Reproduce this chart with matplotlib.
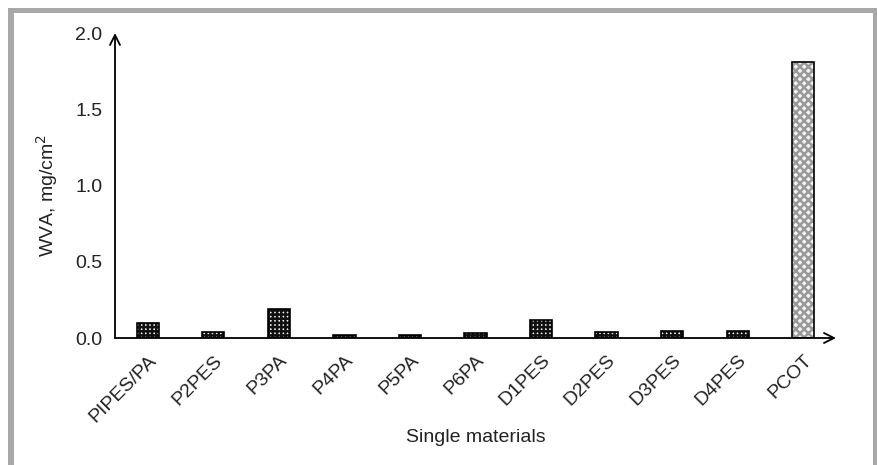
import matplotlib
matplotlib.use("Agg")
import matplotlib.pyplot as plt
from matplotlib.patches import Rectangle

plt.rcParams['font.family'] = ['Liberation Sans', 'DejaVu Sans']
plt.rcParams['hatch.linewidth'] = 1.8

# Water vapour absorption of single fabrics
materials = ["PIPES/PA", "P2PES", "P3PA", "P4PA", "P5PA", "P6PA",
             "D1PES", "D2PES", "D3PES", "D4PES", "PCOT"]
wva = [0.10, 0.04, 0.19, 0.02, 0.02, 0.03, 0.115, 0.04, 0.048, 0.048, 1.81]
y_ticks = [0.0, 0.5, 1.0, 1.5, 2.0]

W, H = 877, 465
fig = plt.figure(figsize=(W / 100, H / 100), dpi=100, facecolor="white")

# gray frame around the figure
frame_col = "#a8a8aa"
for (x0, y0, w, h) in [(8, 8, 6, H - 8), (8, 8, W - 8, 5), (873, 8, 4, H - 8)]:
    fig.patches.append(Rectangle((x0 / W, 1 - (y0 + h) / H), w / W, h / H,
                                 transform=fig.transFigure, facecolor=frame_col,
                                 edgecolor="none", zorder=0))

ax = fig.add_axes([115 / W, 1 - 338 / H, (836 - 115) / W, (338 - 33) / H])
ax.set_facecolor("none")

x = list(range(len(materials)))
bw = 0.34
for i, v in zip(x, wva):
    if materials[i] == "PCOT":
        ax.bar(i, v, width=bw, color="#f4f4f4", edgecolor="#9a9a9a",
               hatch="xxxx", linewidth=0, zorder=2)
    else:
        ax.bar(i, v, width=bw, color="#f0f0f0", edgecolor="#111111",
               hatch="++++", linewidth=0, zorder=2)
    ax.bar(i, v, width=bw, fill=False, edgecolor="black", linewidth=1.2, zorder=3)

ax.set_xlim(-0.5, 10.5)
ax.set_ylim(0, 2.0)
ax.set_yticks(y_ticks)
ax.set_yticklabels([f"{t:.1f}" for t in y_ticks])
ax.set_xticks(x)
ax.set_xticklabels(materials, rotation=45, ha="right", va="top",
                   rotation_mode="anchor")
ax.tick_params(axis="both", length=0, labelsize=14, colors="#222222")
ax.tick_params(axis="x", pad=10)
ax.tick_params(axis="y", pad=9)

for s in ["top", "right", "left", "bottom"]:
    ax.spines[s].set_visible(False)

# axes drawn as arrows
ax.annotate("", xy=(1.0, 0), xytext=(0, 0), xycoords="axes fraction",
            arrowprops=dict(arrowstyle="->", color="black", lw=1.3,
                            mutation_scale=18, shrinkA=0, shrinkB=0), zorder=4)
ax.annotate("", xy=(0, 1.0), xytext=(0, 0), xycoords="axes fraction",
            arrowprops=dict(arrowstyle="->", color="black", lw=1.3,
                            mutation_scale=18, shrinkA=0, shrinkB=0), zorder=4)

ax.set_ylabel("WVA, mg/cm$^2$", fontsize=14, color="#222222", va="center")
ax.yaxis.set_label_coords(-0.094, 0.466)
ax.set_xlabel("Single materials", fontsize=14, color="#222222", va="center")
ax.xaxis.set_label_coords(0.5, -0.325)

fig.savefig("out.png", dpi=100, facecolor="white")
